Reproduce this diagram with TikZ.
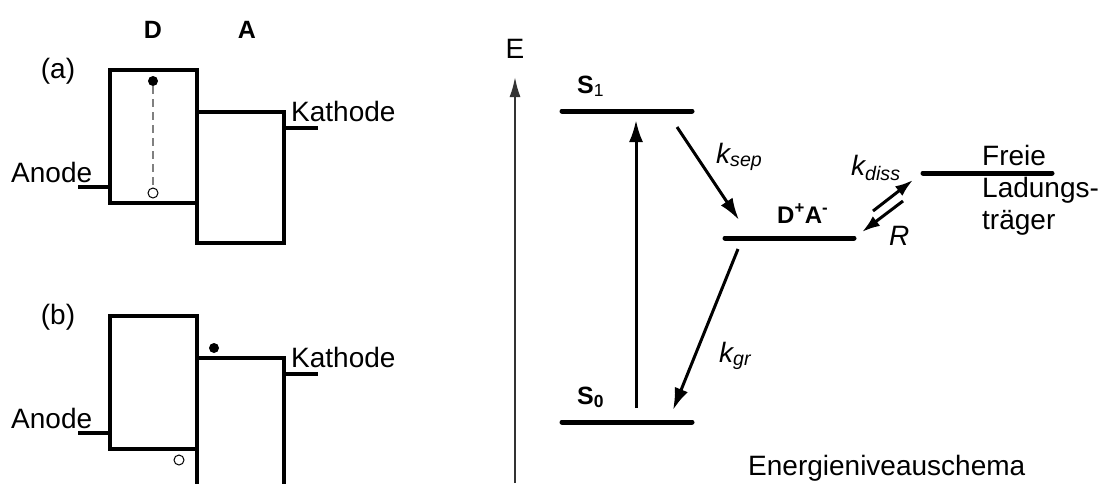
\documentclass[tikz,border=0pt]{standalone}
\usepackage{fontspec}
\setmainfont{Liberation Sans}
\usetikzlibrary{arrows.meta}

\tikzset{
  box/.style = {line width = 3.2pt},
  level/.style = {line width = 5pt, line cap = round},
  trans/.style = {line width = 3pt, -{Latex[length = 22pt, width = 14pt]}},
  smalltrans/.style = {line width = 3pt, -{Latex[length = 18pt, width = 12pt]}},
  axis/.style = {line width = 2pt, black!80, -{Latex[length = 20pt, width = 11pt]}},
  lbl/.style = {inner sep = 0, anchor = base west, font = \fontsize{28}{32}\selectfont},
  blbl/.style = {inner sep = 0, anchor = base west, font = \fontsize{25}{30}\selectfont\bfseries},
  rate/.style = {inner sep = 0, anchor = base west, font = \fontsize{28}{32}\selectfont\itshape},
  electron/.style = {circle, fill, inner sep = 0, minimum size = 10pt},
  hole/.style = {circle, draw, line width = 1pt, inner sep = 0, minimum size = 10pt},
}

\begin{document}
\begin{tikzpicture}[x = 1pt, y = -1pt]
  \useasboundingbox (0,0) rectangle (1101,483);

  % Donor / Akzeptor
  \node[blbl, anchor = base] (don) at (153,38) {D};
  \node[blbl, anchor = base] (acc) at (247,38) {A};
  \foreach \dy/\p in {0/a, 246/b}
    {
      \begin{scope}[shift = {(0,\dy)}]
        \node[lbl, anchor = base] (lab\p) at (58,78) {(\p)};
        \draw [box] (110,70) rectangle (197,203);
        \draw [box] (197,112) rectangle (284,243);
        \node[lbl] (anode\p) at (11,182) {Anode};
        \draw [box] (78,187) -- (110,187);
        \node[lbl] (kath\p) at (291,121) {Kathode};
        \draw [box] (286,128) -- (318,128);
      \end{scope}
    }
  \node[electron] (ea) at (153,81) {};
  \node[hole] (ha) at (153,193) {};
  \draw [dashed, gray, line width = 1.3pt, dash pattern = on 8pt off 5pt] (ea) -- (ha);
  \node[electron] (eb) at (214,348) {};
  \node[hole] (hb) at (179,460) {};

  % Energieniveauschema
  \coordinate (ebot) at (515,483);
  \coordinate (etop) at (515,77);
  \draw [axis] (ebot) -- (etop);
  \node[lbl, anchor = base] (elab) at (515,58) {E};

  \draw [level] (562,111) -- (692,111);
  \draw [level] (562,422) -- (692,422);
  \draw [level] (725,238) -- (854,238);
  \draw [level] (923,173) -- (1052,173);
  \node[blbl] (s1) at (577,93) {S\textsubscript{\mdseries 1}};
  \node[blbl] (s0) at (577,404) {S\textsubscript{0}};
  \node[blbl, font = \fontsize{24}{28}\selectfont\bfseries] (ct) at (777,223)
    {D\textsuperscript{+}A\textsuperscript{-}};
  \node[lbl, anchor = north west, align = left] (free) at (982,145)
    {Freie\\Ladungs-\\träger};

  \coordinate (excA) at (636,408);
  \coordinate (excB) at (636,120);
  \coordinate (sepA) at (677,127);
  \coordinate (sepB) at (739,220);
  \coordinate (grA)  at (738,249);
  \coordinate (grB)  at (673,410);
  \coordinate (disA) at (873,211);
  \coordinate (disB) at (913,180);
  \coordinate (recA) at (903,201);
  \coordinate (recB) at (862,232);
  \draw [trans] (excA) -- (excB);
  \draw [trans] (sepA) -- (sepB);
  \draw [trans] (grA) -- (grB);
  \draw [smalltrans] (disA) -- (disB);
  \draw [smalltrans] (recA) -- (recB);

  \node[rate] (ksep) at (716,163) {k\textsubscript{sep}};
  \node[rate] (kgr) at (719,362) {k\textsubscript{gr}};
  \node[rate] (kdiss) at (851,175) {k\textsubscript{diss}};
  \node[rate] (rr) at (889,245) {R};
  \node[lbl] (schema) at (748,475) {Energieniveauschema};
\end{tikzpicture}
\end{document}
